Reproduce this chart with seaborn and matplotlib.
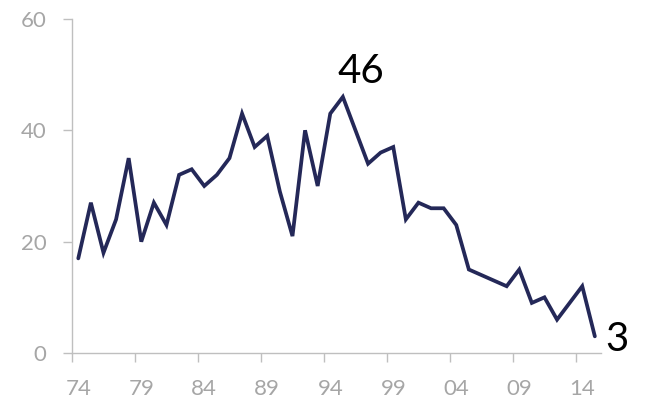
import matplotlib
matplotlib.use("Agg")
import matplotlib.pyplot as plt
import numpy as np
import pandas as pd
import seaborn as sns
from matplotlib.ticker import FixedLocator

years = list(range(1974, 2016))
values = [17, 27, 18, 24, 35, 20, 27, 23, 32, 33,
          30, 32, 35, 43, 37, 39, 29, 21, 40, 30,
          43, 46, 40, 34, 36, 37, 24, 27, 26, 26,
          23, 15, 14, 13, 12, 15, 9, 10, 6, 9,
          12, 3]
label_years = [1974, 1979, 1984, 1989, 1994, 1999, 2004, 2009, 2014]
y_ticks = [0, 20, 40, 60]

LINE = "#242858"
AXIS = "#BFBFBF"
TEXT = "#A6A6A6"

df = pd.DataFrame({"year": years, "value": values})

sns.set_theme(style="white")
plt.rcParams["font.family"] = ["Lato", "DejaVu Sans"]

fig = plt.figure(figsize=(6.45, 4.03), dpi=100)
ax = fig.add_axes([0.1116, 0.124, 0.8204, 0.829])

sns.lineplot(data=df, x="year", y="value", ax=ax, color=LINE,
             linewidth=2.7, solid_joinstyle="miter")

ax.set_xlim(years[0] - 0.5, years[-1] + 0.5)
ax.set_ylim(y_ticks[0], y_ticks[-1])
ax.set_xlabel("")
ax.set_ylabel("")

# labels sit on categories, tick marks sit between categories
ax.set_xticks(label_years)
ax.set_xticklabels([f"{y % 100:02d}" for y in label_years])
ax.xaxis.set_minor_locator(FixedLocator([y - 0.5 for y in label_years]))
ax.tick_params(axis="x", which="major", length=0, pad=19,
               labelsize=16, labelcolor=TEXT)
ax.tick_params(axis="x", which="minor", length=6.5, width=1,
               color=AXIS, direction="out", bottom=True)

ax.set_yticks(y_ticks)
ax.tick_params(axis="y", which="major", length=6.5, width=1, color=AXIS,
               direction="out", left=True, pad=12, labelsize=16,
               labelcolor=TEXT)

for side in ["top", "right"]:
    ax.spines[side].set_visible(False)
for side in ["left", "bottom"]:
    ax.spines[side].set_color(AXIS)
    ax.spines[side].set_linewidth(1)

i_max = int(np.argmax(values))
ax.annotate(f"{values[i_max]}", xy=(years[i_max], values[i_max]),
            xytext=(13, 18), textcoords="offset points",
            ha="center", va="center", fontsize=29, color="black")
ax.annotate(f"{values[-1]}", xy=(years[-1], values[-1]),
            xytext=(16, -2), textcoords="offset points",
            ha="center", va="center", fontsize=29, color="black",
            annotation_clip=False)

fig.savefig("out.png", dpi=100)
